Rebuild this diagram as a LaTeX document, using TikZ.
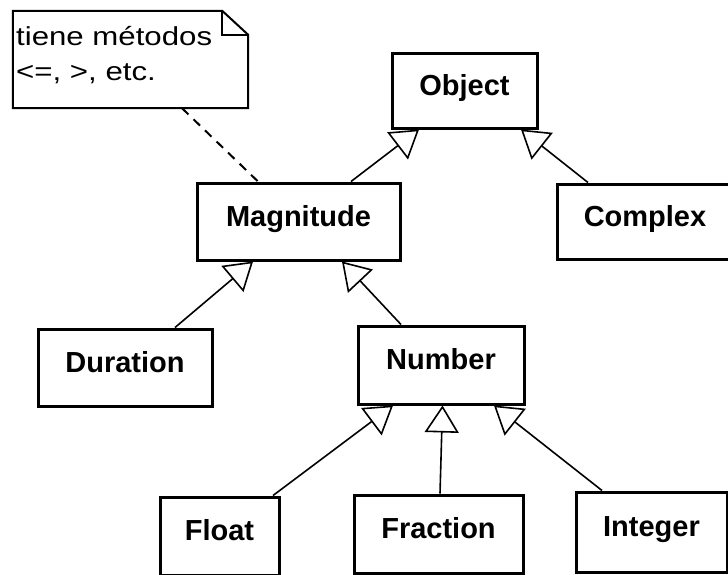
\documentclass[tikz,border=0pt]{standalone}
\usepackage{fontspec}
\setmainfont{Liberation Sans}
\newfontfamily\notefont{Liberation Sans}[FakeStretch=1.2]
\usetikzlibrary{arrows.meta,calc}

\begin{document}
\begin{tikzpicture}[x=1pt,y=-1pt,
  classbox/.style={draw=black, line width=3pt, fill=white, inner sep=0pt,
    font=\fontsize{29}{34}\selectfont\bfseries, text height=21pt, text depth=12pt},
  inherit/.style={line width=1.6pt,
    -{Triangle[length=27pt,width=34pt,fill=white,line width=1.6pt]}},
  notelink/.style={line width=2pt, dash pattern=on 9pt off 7pt},
  notetext/.style={font=\notefont\fontsize{26}{35}\selectfont, inner sep=0pt, anchor=base west}
]
\clip (0,0) rectangle (728,574);
\fill[white] (0,0) rectangle (728,574);

% class boxes
\node[classbox, minimum width=145pt, minimum height=75pt] (obj) at (464.5,90.5) {Object};
\node[classbox, minimum width=203pt, minimum height=77pt] (mag) at (298.5,221.5) {Magnitude};
\node[classbox, minimum width=176pt, minimum height=75pt] (cpx) at (645,221.5) {Complex};
\node[classbox, minimum width=174pt, minimum height=77pt] (dur) at (125,367.5) {Duration};
\node[classbox, minimum width=166pt, minimum height=78pt] (num) at (441,365) {Number};
\node[classbox, minimum width=119pt, minimum height=78pt] (flt) at (219.5,536) {Float};
\node[classbox, minimum width=169pt, minimum height=78pt] (frc) at (438.5,534) {Fraction};
\node[classbox, minimum width=151pt, minimum height=80pt] (int) at (651.5,532) {Integer};

% generalisation arrows
\draw[inherit] ([xshift=52.5pt]mag.north) -- ([xshift=-45.5pt]obj.south);
\draw[inherit] ([xshift=-57pt]cpx.north) -- ([xshift=56.5pt]obj.south);
\draw[inherit] ([xshift=50pt]dur.north) -- ([xshift=-45.5pt]mag.south);
\draw[inherit] ([xshift=-40pt]num.north) -- ([xshift=43.5pt]mag.south);
\draw[inherit] ([xshift=53.5pt]flt.north) -- ([xshift=-48pt]num.south);
\draw[inherit] ([xshift=1.5pt]frc.north) -- ([xshift=1.5pt]num.south);
\draw[inherit] ([xshift=-49.5pt]int.north) -- ([xshift=53pt]num.south);

% comment note with folded corner
\node[minimum width=235pt, minimum height=97pt, inner sep=0pt] (note) at (130.5,59.5) {};
\draw[line width=2pt, fill=white, line join=miter]
  (note.south west) -- (note.north west) -- ([xshift=-26pt]note.north east)
  -- ([yshift=-24pt]note.north east) -- (note.south east) -- cycle;
\draw[line width=2pt] ([xshift=-26pt]note.north east) |- ([yshift=-24pt]note.north east);
\node[notetext] (n1) at (16,45) {tiene métodos};
\node[notetext] (n2) at (16,80) {<=, >, etc.};
\draw[notelink] ([xshift=51.5pt]note.south) -- ([xshift=-40.5pt]mag.north);
\end{tikzpicture}
\end{document}
